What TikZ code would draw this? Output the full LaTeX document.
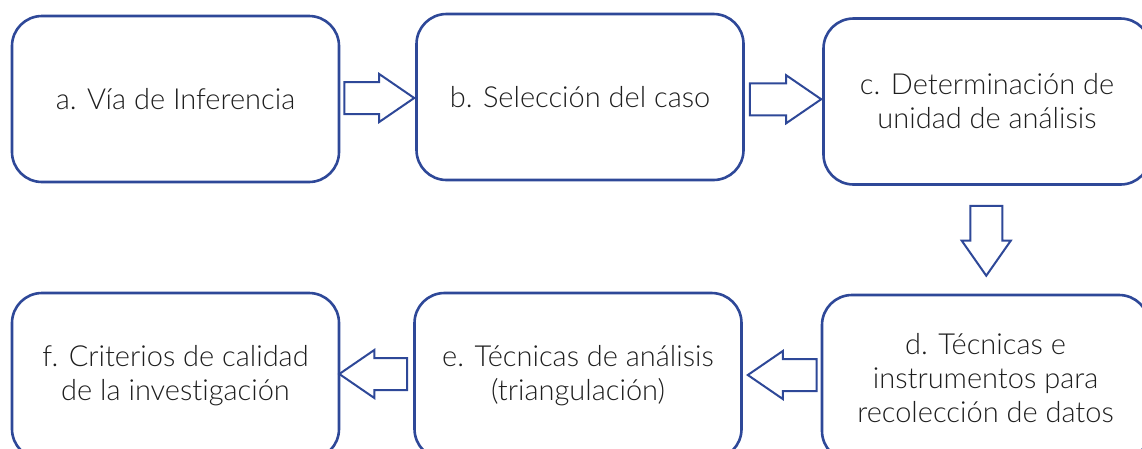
\documentclass[tikz,border=0pt]{standalone}
\usepackage{fontspec}
\setmainfont{Lato}[UprightFont=*-Light, Ligatures=NoCommon]
\usetikzlibrary{calc}
\definecolor{boxblue}{RGB}{46,72,152}
\definecolor{txtgray}{RGB}{30,30,30}
\tikzset{
  stage/.style={draw=boxblue, line width=2.6pt, rounded corners=30pt,
    minimum width=327pt, minimum height=166pt, align=center,
    text=txtgray, font=\fontsize{29}{34}\selectfont, inner sep=0pt},
  barrow/.style={draw=boxblue, line width=2pt, fill=white, line join=miter}
}
\begin{document}
\begin{tikzpicture}[x=1pt,y=-1pt]
\useasboundingbox (0,0) rectangle (1142,448);
\clip (0,0) rectangle (1142,448);
\node[stage] (a) at (175.5,99) {a. Vía de Inferencia};
\node[stage] (b) at (580,97) {b. Selección del caso};
\node[stage] (c) at (987,101.5) {c. Determinación de\\unidad de análisis};
\node[stage] (f) at (175.5,376) {f. Criterios de calidad\\de la investigación};
\node[stage] (e) at (578,376) {e. Técnicas de análisis\\(triangulación)};
\node[stage] (d) at (985.5,378) {d. Técnicas e\\instrumentos para\\recolección de datos};
% right arrows
\draw[barrow] let \p1=($(a.east)+(4,0)$), \p2=($(b.west)+(-1,0)$), \p3=($(\p1)!0.5!(\p2)$) in
  (\x1,\y3+16pt) -- (\x2-35pt,\y3+16pt) -- (\x2-35pt,\y3+24pt) -- (\x2,\y3)
  -- (\x2-35pt,\y3-24pt) -- (\x2-35pt,\y3-16pt) -- (\x1,\y3-16pt) -- cycle;
\draw[barrow] let \p1=($(b.east)+(5,0)$), \p2=($(c.west)+(-1,0)$), \p3=($(\p1)!0.5!(\p2)$) in
  (\x1,\y3+16pt) -- (\x2-35pt,\y3+16pt) -- (\x2-35pt,\y3+24pt) -- (\x2,\y3)
  -- (\x2-35pt,\y3-24pt) -- (\x2-35pt,\y3-16pt) -- (\x1,\y3-16pt) -- cycle;
% down arrow
\draw[barrow] let \p1=($(c.south)+(0,20)$), \p2=($(d.north)+(0,-18)$), \p3=($(\p1)!0.5!(\p2)$) in
  (\x3-16pt,\y1) -- (\x3-16pt,\y2+35pt) -- (\x3-24.5pt,\y2+35pt) -- (\x3,\y2)
  -- (\x3+24.5pt,\y2+35pt) -- (\x3+16pt,\y2+35pt) -- (\x3+16pt,\y1) -- cycle;
% left arrows
\draw[barrow] let \p1=($(d.west)+(-4,-2)$), \p2=($(e.east)+(5,-2)$), \p3=($(\p1)!0.5!(\p2)$) in
  (\x1,\y3+16pt) -- (\x2+35pt,\y3+16pt) -- (\x2+35pt,\y3+24pt) -- (\x2,\y3)
  -- (\x2+35pt,\y3-24pt) -- (\x2+35pt,\y3-16pt) -- (\x1,\y3-16pt) -- cycle;
\draw[barrow] let \p1=($(e.west)+(-6,-2)$), \p2=($(f.east)+(-1,-2)$), \p3=($(\p1)!0.5!(\p2)$) in
  (\x1,\y3+16pt) -- (\x2+35pt,\y3+16pt) -- (\x2+35pt,\y3+24pt) -- (\x2,\y3)
  -- (\x2+35pt,\y3-24pt) -- (\x2+35pt,\y3-16pt) -- (\x1,\y3-16pt) -- cycle;
\end{tikzpicture}
\end{document}
